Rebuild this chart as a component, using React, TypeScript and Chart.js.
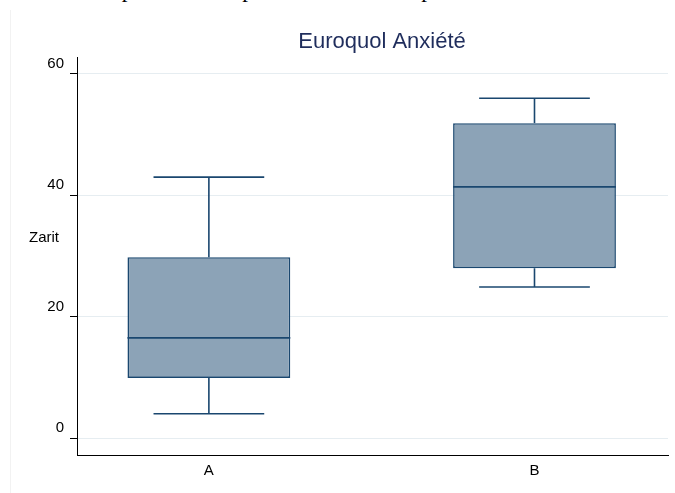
import { useEffect, useRef } from 'react';
import { Chart, registerables } from 'chart.js';

Chart.register(...registerables);

// Box plot summaries per group
const categories = ['A', 'B'];
const lowerWhisker = [4.0, 24.9];
const firstQuartile = [9.9, 28.0];
const medians = [16.5, 41.4];
const thirdQuartile = [29.8, 51.9];
const upperWhisker = [43.0, 56.0];
const yTicks = [0, 20, 40, 60];

const NAVY = '#1a476f';
const BOX_FILL = '#8ca3b7';
const GRID = '#e6edf1';
const CAP_HALF = 0.17;
const BOX_HALF = 0.25;
const FONT_FAMILY = '"Liberation Sans", Arial, Helvetica, sans-serif';

function segment(x0: number, y0: number, x1: number, y1: number) {
  return {
    type: 'line' as const,
    data: [
      { x: x0, y: y0 },
      { x: x1, y: y1 },
    ],
    borderColor: NAVY,
    borderWidth: 1.6,
    pointRadius: 0,
    fill: false,
    order: 0,
  };
}

const textPlugin = {
  id: 'boxTexts',
  afterDraw(chart: any) {
    const { ctx, chartArea } = chart;
    ctx.save();
    ctx.fillStyle = '#1f2d5c';
    ctx.font = `22px ${FONT_FAMILY}`;
    ctx.textAlign = 'center';
    ctx.textBaseline = 'alphabetic';
    ctx.fillText('Euroquol Anxiété', chartArea.left + 305, chartArea.top - 9);

    ctx.fillStyle = '#000';
    ctx.font = `15px ${FONT_FAMILY}`;
    ctx.textBaseline = 'middle';
    ctx.fillText('Zarit', chartArea.left - 33, chartArea.top + 181);
    ctx.restore();
  },
};

export default function App() {
  const canvasRef = useRef<HTMLCanvasElement>(null);

  useEffect(() => {
    const canvas = canvasRef.current;
    if (!canvas) return;
    const positions = categories.map((_, i) => i + 1);

    const segments: any[] = [];
    positions.forEach((x, i) => {
      segments.push(segment(x, thirdQuartile[i], x, upperWhisker[i]));
      segments.push(segment(x, firstQuartile[i], x, lowerWhisker[i]));
      segments.push(segment(x - CAP_HALF, upperWhisker[i], x + CAP_HALF, upperWhisker[i]));
      segments.push(segment(x - CAP_HALF, lowerWhisker[i], x + CAP_HALF, lowerWhisker[i]));
      segments.push(segment(x - BOX_HALF, medians[i], x + BOX_HALF, medians[i]));
    });

    const tickFont = { family: FONT_FAMILY, size: 15 };

    const chart = new Chart(canvas, {
      type: 'bar',
      data: {
        datasets: [
          ...segments,
          {
            type: 'bar',
            data: positions.map((x, i) => ({ x, y: [firstQuartile[i], thirdQuartile[i]] })),
            backgroundColor: BOX_FILL,
            borderColor: NAVY,
            borderWidth: 1.6,
            borderSkipped: false,
            barPercentage: 0.5,
            categoryPercentage: 1,
            order: 1,
          },
        ] as any,
      },
      options: {
        responsive: false,
        animation: false,
        devicePixelRatio: 1,
        layout: { padding: { top: 57, right: 7, left: 0, bottom: 0 } },
        plugins: {
          legend: { display: false },
          tooltip: { enabled: false },
          title: { display: false },
        },
        scales: {
          x: {
            type: 'linear',
            offset: false,
            min: 0.595,
            max: 2.41,
            afterBuildTicks: (s: any) => {
              s.ticks = positions.map((v) => ({ value: v }));
            },
            afterFit: (s: any) => {
              s.height = 38;
            },
            grid: { drawOnChartArea: false, drawTicks: false, offset: false },
            border: { display: true, color: '#000', width: 1 },
            ticks: {
              font: tickFont,
              color: '#000',
              padding: 7,
              maxRotation: 0,
              autoSkip: false,
              callback: (v: any) => categories[Math.round(Number(v)) - 1] ?? '',
            },
          },
          y: {
            type: 'linear',
            min: -2.8,
            max: 62.8,
            afterBuildTicks: (s: any) => {
              s.ticks = yTicks.map((v) => ({ value: v }));
            },
            afterFit: (s: any) => {
              s.width = 77;
            },
            grid: { color: GRID, lineWidth: 1, tickColor: '#000', tickLength: 7, drawTicks: true },
            border: { display: true, color: '#000', width: 1 },
            ticks: {
              font: tickFont,
              color: '#000',
              padding: 6,
              labelOffset: -10,
              callback: (v: any) => String(v),
            },
          },
        },
      } as any,
      plugins: [textPlugin],
    });

    return () => chart.destroy();
  }, []);

  return (
    <div
      style={{
        position: 'fixed',
        left: 0,
        top: 0,
        width: 675,
        height: 493,
        overflow: 'hidden',
        background: '#fff',
      }}
    >
      <div
        style={{
          position: 'absolute',
          left: -4,
          top: -22,
          whiteSpace: 'nowrap',
          fontFamily: '"Liberation Serif", "Times New Roman", serif',
          fontSize: 23,
          lineHeight: '23px',
          wordSpacing: 6,
          color: '#000',
        }}
      >
        trouvent les patients les plus à l'heure de présence sc
      </div>
      <div
        style={{
          position: 'absolute',
          left: 10,
          top: 10,
          bottom: 0,
          width: 1,
          background: '#f2f2f2',
        }}
      />
      <canvas ref={canvasRef} width={675} height={493} style={{ position: 'absolute', left: 0, top: 0 }} />
    </div>
  );
}
